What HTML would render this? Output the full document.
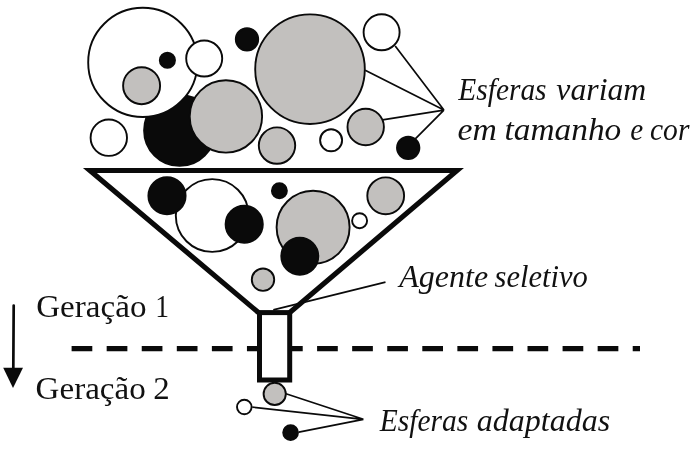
<!DOCTYPE html>
<html><head><meta charset="utf-8">
<style>
html,body{margin:0;padding:0;background:#fff;}
body{width:696px;height:451px;overflow:hidden;}
svg{display:block;}
.tx{filter:grayscale(1);}
text{font-family:"Liberation Serif",serif;fill:#111;}
.it{font-style:italic;}
</style></head><body>
<svg width="696" height="451" viewBox="0 0 696 451">
<rect width="696" height="451" fill="#fff"/>
<g stroke="#0a0a0a" stroke-width="1.9">
<!-- top cluster -->
<circle cx="179.6" cy="130.4" r="35.5" fill="#0a0a0a"/>
<circle cx="142.8" cy="62.4" r="54.6" fill="#fff"/>
<circle cx="141.6" cy="85.7" r="18.5" fill="#c2c0be"/>
<circle cx="167.4" cy="60.2" r="7.6" fill="#0a0a0a"/>
<circle cx="204.2" cy="58.5" r="18" fill="#fff"/>
<circle cx="247" cy="39.3" r="11.2" fill="#0a0a0a"/>
<circle cx="225.9" cy="116.4" r="36.2" fill="#c2c0be"/>
<circle cx="310" cy="69.2" r="54.8" fill="#c2c0be"/>
<circle cx="381.6" cy="32.3" r="18" fill="#fff"/>
<circle cx="108.8" cy="137.7" r="18.2" fill="#fff"/>
<circle cx="277" cy="145.6" r="18.2" fill="#c2c0be"/>
<circle cx="331.1" cy="140.3" r="11" fill="#fff"/>
<circle cx="365.7" cy="127" r="18.2" fill="#c2c0be"/>
<circle cx="408.2" cy="147.8" r="11.2" fill="#0a0a0a"/>
<!-- leader lines top -->
<g fill="none" stroke-width="1.7">
<path d="M395.2 45.9L443.9 110.1L365.2 70.3M443.9 110.1L382.5 119.9M443.9 110.1L415.3 138.9"/>
</g>
<!-- funnel contents -->
<circle cx="212.2" cy="215.5" r="36.4" fill="#fff"/>
<circle cx="167" cy="195.7" r="18.6" fill="#0a0a0a"/>
<circle cx="244.2" cy="224.2" r="18.6" fill="#0a0a0a"/>
<circle cx="279.4" cy="190.8" r="7.5" fill="#0a0a0a"/>
<circle cx="313.1" cy="227.3" r="36.5" fill="#c2c0be"/>
<circle cx="299.8" cy="256.3" r="18.5" fill="#0a0a0a"/>
<circle cx="385.7" cy="195.8" r="18.4" fill="#c2c0be"/>
<circle cx="359.6" cy="220.7" r="7.5" fill="#fff"/>
<circle cx="263" cy="279.7" r="11.2" fill="#c2c0be"/>
<!-- bottom spheres -->
<circle cx="274.7" cy="393.9" r="11.1" fill="#c2c0be"/>
<circle cx="244.3" cy="407" r="7.3" fill="#fff"/>
<circle cx="290.6" cy="432.6" r="7.4" fill="#0a0a0a"/>
<g fill="none" stroke-width="1.7">
<path d="M286 393.7L363.4 419.3L252.3 407.1M363.4 419.3L298.8 432.1"/>
<path d="M273.3 309.8L385.5 282.2"/>
</g>
</g>
<!-- funnel -->
<path d="M258.4 312.5L89.9 170.5H457L289.8 312.5" fill="none" stroke="#0a0a0a" stroke-width="5.1" stroke-linejoin="miter"/>
<!-- dashed line -->
<path d="M71.6 348.6H640" fill="none" stroke="#0a0a0a" stroke-width="5.4" stroke-dasharray="20.7 14.37"/>
<!-- stem -->
<rect x="259.5" y="312.6" width="30.2" height="67.4" fill="#fff" stroke="#0a0a0a" stroke-width="5"/>
<!-- arrow -->
<path d="M13.7 305.6L13.3 370" stroke="#0a0a0a" stroke-width="2.7" stroke-linecap="round" fill="none"/>
<path d="M3.2 367.8H23L13 388Z" fill="#0a0a0a"/>
<g class="tx">
<!-- text -->
<text transform="translate(36.21 316.7) scale(1.0187 1)" font-size="32.5">Geração</text>
<text transform="translate(155.13 316.7) scale(0.8490 1)" font-size="32.5">1</text>
<text transform="translate(35.61 398.8) scale(1.0178 1)" font-size="32.5">Geração</text>
<text transform="translate(153.36 398.8) scale(1.0116 1)" font-size="32.5">2</text>
<text transform="translate(458.35 99.5) scale(0.9051 1)" font-size="32.5" class="it">Esferas</text>
<text transform="translate(556.32 99.5) scale(0.9772 1)" font-size="32.5" class="it">variam</text>
<text transform="translate(457.48 140.4) scale(1.0351 1)" font-size="32.5" class="it">em</text>
<text transform="translate(504.58 140.4) scale(1.0262 1)" font-size="32.5" class="it">tamanho</text>
<text transform="translate(630.32 140.4) scale(0.8982 1)" font-size="32.5" class="it">e</text>
<text transform="translate(650.00 140.4) scale(0.9091 1)" font-size="32.5" class="it">cor</text>
<text transform="translate(399.30 287.1) scale(0.9853 1)" font-size="32.5" class="it">Agente</text>
<text transform="translate(494.54 287.1) scale(0.9402 1)" font-size="32.5" class="it">seletivo</text>
<text transform="translate(379.85 430.9) scale(0.9071 1)" font-size="32.5" class="it">Esferas</text>
<text transform="translate(476.83 430.9) scale(0.9847 1)" font-size="32.5" class="it">adaptadas</text>
</g>
</svg>
</body></html>
